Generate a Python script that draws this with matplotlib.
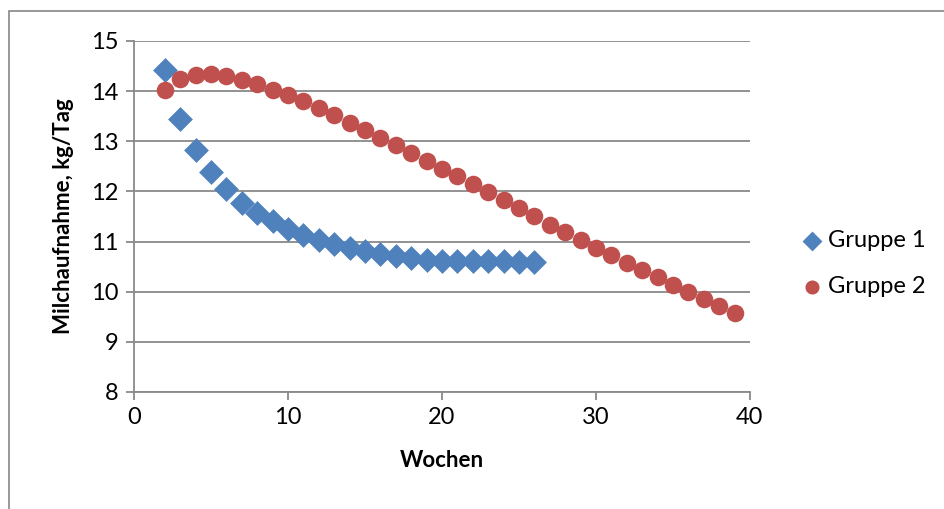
import matplotlib
matplotlib.use('Agg')
import matplotlib.pyplot as plt
from matplotlib.patches import Rectangle

plt.rcParams['font.family'] = ['Lato', 'DejaVu Sans']

wochen1 = list(range(2, 27))
gruppe1 = [14.43, 13.44, 12.82, 12.39, 12.04, 11.77, 11.57, 11.40, 11.25, 11.14,
           11.04, 10.95, 10.87, 10.81, 10.75, 10.71, 10.67, 10.64, 10.62, 10.62,
           10.61, 10.61, 10.61, 10.60, 10.60]

wochen2 = list(range(2, 40))
gruppe2 = [14.03, 14.24, 14.33, 14.35, 14.31, 14.23, 14.15, 14.03, 13.93, 13.80,
           13.67, 13.52, 13.37, 13.23, 13.07, 12.92, 12.77, 12.61, 12.45, 12.31,
           12.14, 11.98, 11.82, 11.66, 11.50, 11.34, 11.19, 11.03, 10.87, 10.73,
           10.58, 10.43, 10.29, 10.14, 9.99, 9.85, 9.71, 9.57]

fig = plt.figure(figsize=(9.44, 5.09), dpi=100)
ax = fig.add_axes([0.1419, 0.2299, 0.6525, 0.6896])

# outer chart frame
fig.patches.append(Rectangle((9/944, -0.1), 1.0, 1 - 11/509 + 0.1, transform=fig.transFigure,
                             fill=False, edgecolor='#868686', linewidth=1.2))

gridc = '#898989'
ax.scatter(wochen1, gruppe1, marker='D', s=160, color='#4F81BD', label='Gruppe 1', zorder=3, linewidths=0)
ax.scatter(wochen2, gruppe2, marker='o', s=160, color='#C0504D', label='Gruppe 2', zorder=3, linewidths=0)

ax.set_xlim(0, 40)
ax.set_ylim(8, 15)
ax.set_xticks(range(0, 41, 10))
ax.set_yticks(range(8, 16))
ax.yaxis.grid(True, color=gridc, linewidth=1.3)
ax.set_axisbelow(True)
for s in ['top', 'right']:
    ax.spines[s].set_visible(False)
for s in ['left', 'bottom']:
    ax.spines[s].set_color(gridc)
    ax.spines[s].set_linewidth(1.3)
ax.tick_params(axis='both', colors=gridc, labelcolor='black', labelsize=17, length=6, width=1.3)
ax.tick_params(axis='x', pad=5)
ax.tick_params(axis='y', pad=5)

ax.set_xlabel('Wochen', fontsize=16, fontweight='bold', labelpad=16)
ax.set_ylabel('Milchaufnahme, kg/Tag', fontsize=16, fontweight='bold', labelpad=12)

leg = ax.legend(loc='center left', bbox_to_anchor=(1.081, 0.365), frameon=False, fontsize=17,
                handlelength=1.0, handletextpad=0.2, borderpad=0, borderaxespad=0,
                labelspacing=1.05, markerscale=0.8)

plt.savefig('out.png', dpi=100)
plt.close()
